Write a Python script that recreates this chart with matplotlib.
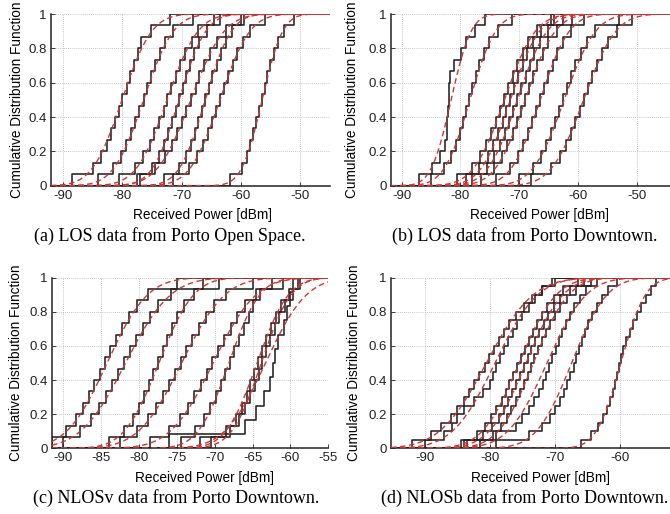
import math
import numpy as np
import matplotlib
matplotlib.use("Agg")
import matplotlib.pyplot as plt

# ---------------- data (received power samples, dBm) ----------------
# (a) LOS data from Porto Open Space
los_open = [
    [-88.5, -85.0, -83.6, -82.5, -81.9, -81.3, -80.5, -80.1, -79.2, -78.7, -78.0, -77.3, -76.8, -75.2, -72.0],
    [-84.0, -81.5, -80.2, -79.3, -78.5, -77.8, -77.1, -76.4, -75.8, -75.2, -74.5, -73.6, -72.8, -71.5, -68.0],
    [-80.5, -77.8, -76.5, -75.4, -74.6, -73.8, -73.0, -72.4, -71.8, -71.0, -70.3, -69.5, -68.3, -67.2, -64.5],
    [-77.5, -75.0, -73.8, -73.0, -72.3, -71.6, -71.0, -70.4, -69.8, -69.3, -68.6, -67.9, -67.0, -65.8, -63.5],
    [-77.0, -74.5, -72.8, -71.6, -70.8, -70.0, -69.2, -68.4, -67.6, -67.0, -66.2, -65.2, -64.0, -62.5, -60.0],
    [-73.0, -70.5, -69.3, -68.5, -67.8, -67.2, -66.6, -66.0, -65.4, -64.8, -64.1, -63.4, -62.6, -61.5, -59.5],
    [-71.5, -68.8, -67.4, -66.4, -65.6, -64.9, -64.2, -63.5, -62.8, -62.1, -61.4, -60.6, -59.6, -58.4, -56.0],
    [-61.8, -59.8, -59.0, -58.4, -57.9, -57.4, -57.0, -56.5, -56.0, -55.6, -55.1, -54.5, -53.8, -52.7, -51.0],
]
# (b) LOS data from Porto Downtown
los_down = [
    [-87.0, -84.9, -83.5, -82.6, -82.3, -82.2, -82.1, -82.0, -81.9, -81.8, -81.0, -79.8, -79.0, -77.5, -75.8],
    [-85.0, -82.8, -81.5, -80.8, -80.1, -79.5, -79.0, -78.6, -78.0, -77.4, -76.8, -76.0, -75.2, -73.6, -71.2],
    [-80.5, -78.0, -76.6, -75.6, -74.7, -73.9, -73.2, -72.5, -71.8, -71.1, -70.3, -69.4, -68.4, -67.0, -64.5],
    [-79.0, -76.8, -75.3, -74.4, -73.6, -72.8, -72.2, -71.5, -70.8, -70.2, -69.4, -68.6, -67.6, -66.2, -64.0],
    [-78.0, -75.5, -74.2, -73.2, -72.4, -71.7, -71.0, -70.3, -69.6, -68.9, -68.2, -67.4, -66.4, -65.0, -62.5],
    [-76.5, -74.2, -72.9, -72.0, -71.1, -70.4, -69.7, -69.0, -68.3, -67.6, -66.9, -66.0, -65.0, -63.6, -61.0],
    [-74.0, -71.5, -70.2, -69.3, -68.5, -67.8, -67.1, -66.4, -65.7, -65.0, -64.3, -63.5, -62.5, -61.2, -59.0],
    [-70.0, -67.6, -66.3, -65.4, -64.6, -63.9, -63.2, -62.5, -61.8, -61.1, -60.4, -59.5, -58.5, -57.0, -53.0],
    [-68.0, -64.5, -63.0, -62.0, -61.2, -60.4, -59.7, -59.0, -58.3, -57.5, -56.8, -55.9, -54.8, -53.3, -50.8],
]
# (c) NLOSv data from Porto Downtown
nlosv_down = [
    [-91.5, -89.6, -88.3, -87.4, -86.6, -85.9, -85.2, -84.5, -83.8, -83.0, -82.2, -81.3, -80.3, -78.8, -75.0],
    [-90.0, -87.8, -86.4, -85.3, -84.4, -83.6, -82.8, -82.0, -81.2, -80.4, -79.5, -78.6, -77.5, -75.8, -71.5],
    [-84.0, -82.0, -80.8, -80.0, -79.3, -78.7, -78.1, -77.5, -76.9, -76.3, -75.7, -75.0, -74.1, -72.8, -69.5],
    [-82.5, -80.3, -78.8, -77.8, -76.9, -76.0, -75.2, -74.5, -73.8, -73.0, -72.1, -71.2, -70.1, -68.5, -65.0],
    [-78.5, -76.0, -74.6, -73.6, -72.7, -71.8, -71.0, -70.3, -69.6, -68.8, -67.9, -67.0, -66.0, -64.5, -61.0],
    [-74.5, -72.6, -71.4, -70.6, -69.8, -69.2, -68.6, -68.0, -67.4, -66.8, -66.2, -65.5, -64.9, -64.0, -62.5],
    [-72.0, -68.5, -67.2, -66.4, -65.8, -65.3, -64.8, -64.3, -63.8, -63.2, -62.6, -61.9, -61.2, -60.2, -59.0],
    [-70.5, -68.0, -66.8, -66.0, -65.3, -64.7, -64.2, -63.7, -63.2, -62.7, -62.1, -61.5, -60.7, -59.6, -58.7],
    [-76.0, -66.0, -64.5, -63.5, -62.7, -62.3, -62.0, -61.6, -60.8, -60.4, -60.1, -59.6],
]
# (d) NLOSb data from Porto Downtown
nlosb_down = [
    [-92.0, -89.0, -87.5, -86.0, -85.0, -84.0, -83.2, -82.4, -81.6, -80.8, -80.2, -79.4, -78.6, -77.8, -77.0, -76.0, -74.8, -73.5, -72.0, -70.0],
    [-90.0, -87.0, -85.8, -85.0, -84.0, -82.5, -81.0, -80.0, -79.5, -79.0, -78.5, -77.8, -77.2, -76.5, -75.8, -75.0, -74.0, -73.0, -72.0, -70.5],
    [-84.5, -82.0, -80.8, -79.8, -79.0, -78.2, -77.5, -77.0, -76.4, -75.8, -75.2, -74.6, -74.0, -73.4, -72.8, -72.0, -71.2, -70.2, -68.8, -66.5],
    [-83.5, -81.0, -79.6, -78.6, -77.9, -77.2, -76.6, -76.0, -75.3, -74.8, -74.2, -73.6, -73.0, -72.4, -71.7, -71.0, -70.2, -69.2, -67.6, -65.5],
    [-81.5, -79.5, -78.3, -77.4, -76.7, -76.0, -75.4, -74.8, -74.2, -73.7, -73.2, -72.6, -72.0, -71.4, -70.8, -70.0, -69.2, -68.2, -66.8, -64.5],
    [-84.0, -79.0, -76.0, -75.0, -74.0, -73.2, -72.5, -71.9, -71.4, -70.9, -70.4, -69.9, -69.4, -68.9, -68.3, -67.7, -67.0, -66.2, -65.2, -63.5],
    [-79.0, -74.0, -72.0, -70.8, -70.0, -69.2, -68.6, -68.1, -67.6, -67.1, -66.7, -66.3, -65.9, -65.4, -64.9, -64.3, -63.6, -62.8, -61.8, -60.5],
    [-66.0, -64.5, -63.3, -62.6, -62.0, -61.5, -61.1, -60.8, -60.5, -60.2, -59.9, -59.5, -59.0, -58.5, -58.0, -57.4, -56.8, -56.0, -55.2, -54.5],
]

panel_data = [los_open, los_down, nlosv_down, nlosb_down]
panel_xlims = [(-92, -45), (-91.8, -44.3), (-91.5, -55), (-95.2, -52.3)]
panel_xticks = [[-90, -80, -70, -60, -50], [-90, -80, -70, -60, -50],
                [-90, -85, -80, -75, -70, -65, -60, -55], [-90, -80, -70, -60]]
y_ticks = [0, 0.2, 0.4, 0.6, 0.8, 1]
y_ticklabels = ["0", "0.2", "0.4", "0.6", "0.8", "1"]
captions = ["(a) LOS data from Porto Open Space.", "(b) LOS data from Porto Downtown.",
            "(c) NLOSv data from Porto Downtown.", "(d) NLOSb data from Porto Downtown."]
xlabel_text = "Received Power [dBm]"
ylabel_text = "Cumulative Distribution Function"

# ---------------- layout ----------------
W, H = 670, 514
fig = plt.figure(figsize=(W / 100, H / 100), dpi=100)

def frac_rect(l, t, r, b):
    return [l / W, 1 - b / H, (r - l) / W, (b - t) / H]

rects = [frac_rect(51, 14, 330, 185.7), frac_rect(391, 14, 670, 185.7),
         frac_rect(52, 277.7, 328.3, 448.3), frac_rect(391, 277.7, 670, 448.3)]
xlabel_x = [0.543, 0.532, 0.551, 0.536]
xlabel_y = [-0.128, -0.128, -0.135, -0.135]
ylabel_x = [-0.095, -0.115, -0.105, -0.108]
caption_pos = [(170, 236), (525, 236), (176, 498), (525, 498)]

erf = np.vectorize(math.erf)
sans = ["Liberation Sans", "DejaVu Sans"]
serif = ["Liberation Serif", "DejaVu Serif"]

for i in range(4):
    ax = fig.add_axes(rects[i])
    xl = panel_xlims[i]
    xs = np.linspace(xl[0], xl[1], 400)
    for samp in panel_data[i]:
        s = np.sort(np.asarray(samp, dtype=float))
        n = len(s)
        x = np.concatenate([[xl[0]], s, [xl[1]]])
        y = np.concatenate([[0.0], np.arange(1, n + 1) / n, [1.0]])
        ax.step(x, y, where="post", color="#222222", lw=1.15, zorder=3)
    for samp in panel_data[i]:
        s = np.asarray(samp, dtype=float)
        mu, sd = s.mean(), s.std()
        cdf = 0.5 * (1 + erf((xs - mu) / (sd * math.sqrt(2))))
        ax.plot(xs, cdf, color="#d23434", lw=1.0, ls=(0, (4, 2.5)), zorder=4)
    ax.set_xlim(*xl)
    ax.set_ylim(0, 1)
    ax.set_xticks(panel_xticks[i])
    ax.set_xticklabels([str(t) for t in panel_xticks[i]], family=sans, fontsize=9.5)
    ax.set_yticks(y_ticks)
    ax.set_yticklabels(y_ticklabels, family=sans, fontsize=9.5)
    ax.tick_params(direction="in", length=3, width=0.6, pad=3, colors="#222222")
    ax.grid(True, ls=(0, (1, 1.5)), color="#b5b5b5", lw=0.6)
    ax.set_axisbelow(True)
    for sp in ["top", "right"]:
        ax.spines[sp].set_visible(False)
    for sp in ["left", "bottom"]:
        ax.spines[sp].set_linewidth(1.1)
        ax.spines[sp].set_color("#222222")
    ax.set_xlabel(xlabel_text, family=sans, fontsize=9.8)
    ax.xaxis.set_label_coords(xlabel_x[i], xlabel_y[i])
    ax.set_ylabel(ylabel_text, family=sans, fontsize=9.8)
    ax.yaxis.set_label_coords(ylabel_x[i], 0.5)
    cx, cy = caption_pos[i]
    fig.text(cx / W, 1 - cy / H, captions[i], family=serif, fontsize=13,
             ha="center", va="center")

fig.savefig("out.png", dpi=100)
